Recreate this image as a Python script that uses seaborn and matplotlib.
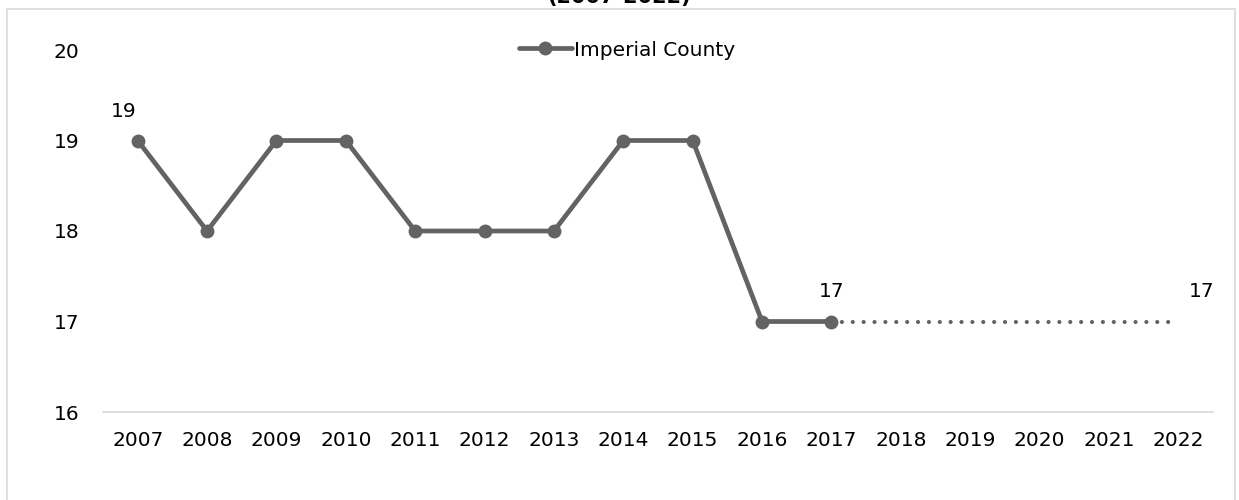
import matplotlib
matplotlib.use("Agg")
import matplotlib.pyplot as plt
from matplotlib.patches import Rectangle
import seaborn as sns
import pandas as pd

# data
years = [2007, 2008, 2009, 2010, 2011, 2012, 2013, 2014, 2015, 2016, 2017]
values = [19, 18, 19, 19, 18, 18, 18, 19, 19, 17, 17]
proj_years = [2017, 2022]
proj_values = [17, 17]
all_years = list(range(2007, 2023))
label_years = [2007, 2017, 2022]
label_values = [19, 17, 17]
series_name = "Imperial County"
subtitle = "(2007-2022)"

LINE = "#636363"
FS = 14.5

sns.set_style("white")
plt.rcParams['font.family'] = ['DejaVu Sans']

df = pd.DataFrame({'year': years, 'value': values})
proj = pd.DataFrame({'year': proj_years, 'value': proj_values})

fig = plt.figure(figsize=(12.39, 5.0), dpi=100)
ax = fig.add_axes([103 / 1239, 1 - 412 / 500, 1110 / 1239, 362 / 500])

sns.lineplot(data=proj, x='year', y='value', ax=ax, color=LINE, lw=3,
             linestyle=(0, (0.01, 2.6)), dash_capstyle='round')
sns.lineplot(data=df, x='year', y='value', ax=ax, color=LINE, lw=3.4,
             marker='o', markersize=10, markeredgewidth=0, label=series_name)

# data labels
offsets = [(-10, 14), (0, 15), (17, 15)]
for yr, v, (dx, dy) in zip(label_years, label_values, offsets):
    ax.annotate(str(v), (yr, v), xytext=(dx, dy), textcoords='offset points',
                ha='center', va='bottom', fontsize=FS, color='black')

ax.set_xlim(2006.5, 2022.5)
ax.set_ylim(16, 20)
ax.set_xticks(all_years)
ax.set_xticklabels([str(y) for y in all_years])
ax.set_yticks([16, 17, 18, 19, 20])
ax.set_xlabel('')
ax.set_ylabel('')
ax.tick_params(axis='both', length=0, labelsize=FS, colors='black')
ax.tick_params(axis='x', pad=14)
ax.tick_params(axis='y', pad=17)
for s in ['top', 'right', 'left']:
    ax.spines[s].set_visible(False)
ax.spines['bottom'].set_color('#d9d9d9')
ax.spines['bottom'].set_linewidth(1.2)

ax.legend(loc='center', bbox_to_anchor=(0.472, 1.0), frameon=False,
          fontsize=FS, handlelength=2.6, handletextpad=0.1, labelcolor='black')

# chart border and cut-off title
fig.patches.append(Rectangle((7 / 1239, -0.02), 1228 / 1239, 1 - 9 / 500 + 0.02,
                             transform=fig.transFigure, fill=False,
                             edgecolor='#d9d9d9', lw=1.2))
fig.text(0.5, 1 - 3 / 500, subtitle, ha='center', va='baseline',
         fontsize=15, fontweight='bold', color='black')

fig.savefig('out.png', dpi=100)
